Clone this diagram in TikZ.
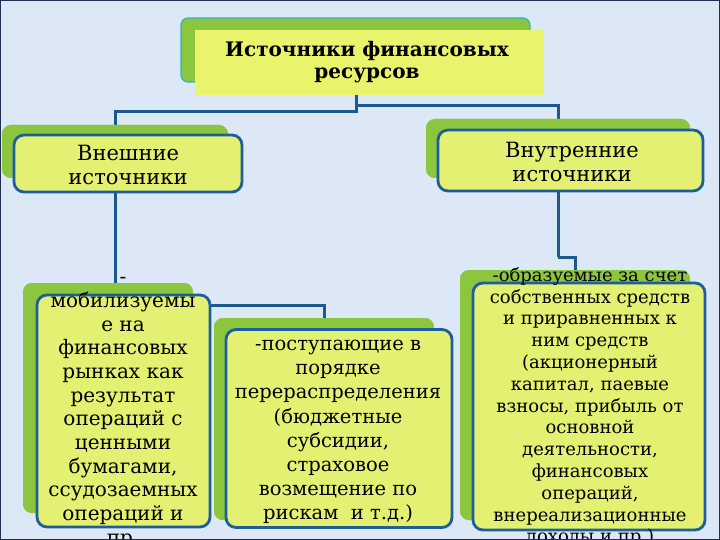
\documentclass[tikz,border=0pt]{standalone}
\usepackage{fontspec}
\setmainfont{DejaVu Serif}
\newfontfamily\boxfont{DejaVu Serif}
\definecolor{bg}{HTML}{DCE8F5}
\definecolor{gback}{HTML}{8CC63F}
\definecolor{yfront}{HTML}{E4F071}
\definecolor{ytitle}{HTML}{E9F36B}
\definecolor{bline}{HTML}{1F5E9C}
\definecolor{conn}{HTML}{1B5A8E}
\definecolor{frame}{HTML}{1E3050}
\definecolor{tealline}{HTML}{2FB3C6}
\tikzset{
  backbox/.style={fill=gback, rounded corners=9pt, inner sep=0pt},
  frontbox/.style={fill=yfront, draw=bline, line width=2.8pt, rounded corners=10pt, inner sep=0pt},
  connline/.style={draw=conn, line width=3pt},
  bigtext/.style={align=center, inner sep=0pt, font=\fontsize{21}{24}\selectfont},
  boxtext/.style={align=center, inner sep=0pt, font=\boxfont\fontsize{20}{23.7}\selectfont},
}
\begin{document}
\begin{tikzpicture}[x=1pt,y=-1pt]
\useasboundingbox (0,0) rectangle (720,540);
\clip (0,0) rectangle (720,540);
\fill[bg] (0,0) rectangle (720,540);

% coordinates for connector joints
\coordinate (jl) at (356,112);
\coordinate (jr) at (356,106);
\coordinate (j2) at (114,305);
\coordinate (j3) at (558,257);

% title
\node[backbox, draw=tealline, line width=1.2pt, rounded corners=7pt, minimum width=349pt, minimum height=64pt] (titleback) at (355.5,50) {};
\node[fill=ytitle, inner sep=0pt, minimum width=349pt, minimum height=65pt] (title) at (369.5,62.5) {};

% level 2 boxes
\node[backbox, minimum width=226pt, minimum height=53pt] (extback) at (115,151.5) {};
\node[backbox, minimum width=264pt, minimum height=59pt] (intback) at (558,148.5) {};

% level 3 back boxes
\node[backbox, minimum width=170pt, minimum height=230pt] (b1back) at (108,398) {};
\node[backbox, minimum width=220pt, minimum height=202pt] (b2back) at (324,419) {};
\node[backbox, minimum width=230pt, minimum height=250pt] (b3back) at (575,395) {};

% connectors
\draw[connline] (title.south -| jl) -- (jl) -| (extback.north);
\draw[connline] (jr) -| (intback.north);
\draw[connline] (j2) -| (b2back.north);
\draw[connline] (j3) -| (b3back.north);

% redraw backs above connectors
\node[backbox, minimum width=226pt, minimum height=53pt] at (115,151.5) {};
\node[backbox, minimum width=264pt, minimum height=59pt] at (558,148.5) {};
\node[backbox, minimum width=170pt, minimum height=230pt] at (108,398) {};
\node[backbox, minimum width=220pt, minimum height=202pt] at (324,419) {};
\node[backbox, minimum width=230pt, minimum height=250pt] at (575,395) {};

% front boxes
\node[frontbox, minimum width=228pt, minimum height=57pt] (ext) at (128,163.5) {};
\node[frontbox, minimum width=265pt, minimum height=61pt] (int) at (570.5,160.5) {};
\node[frontbox, minimum width=173pt, minimum height=232pt] (b1) at (123.5,411) {};
\node[frontbox, minimum width=226pt, minimum height=198pt] (b2) at (339,428.5) {};
\node[frontbox, minimum width=232pt, minimum height=247pt] (b3) at (589,406.5) {};

% connectors from level 2 down
\draw[connline] (ext.south -| extback.north) -- (b1back.north -| extback.north);
\draw[connline] (int.south -| j3) -- (j3);

% texts
\node[align=center, inner sep=0pt, font=\bfseries\fontsize{20}{22}\selectfont] (titletext) at (367,62.5) {Источники финансовых\\ресурсов};
\node[bigtext] (exttext) at (128,165) {Внешние\\источники};
\node[bigtext] (inttext) at (572,161.5) {Внутренние\\источники};
\node[boxtext] (t1) at (123,413) {-\\мобилизуемы\\е на\\финансовых\\рынках как\\результат\\операций с\\ценными\\бумагами,\\ссудозаемных\\операций и\\пр.};
\node[boxtext, font=\boxfont\fontsize{19.5}{24.2}\selectfont] (t2) at (338,432) {-поступающие в\\порядке\\перераспределения\\(бюджетные\\субсидии,\\страховое\\возмещение по\\рискам~~и т.д.)};
\node[align=center, inner sep=0pt, font=\boxfont\fontsize{18}{21.8}\selectfont] (t3) at (590,407) {-образуемые за счет\\собственных средств\\и приравненных к\\ним средств\\(акционерный\\капитал, паевые\\взносы, прибыль от\\основной\\деятельности,\\финансовых\\операций,\\внереализационные\\доходы и пр.)};

\draw[frame, line width=2.5pt] (0,0) rectangle (720,540);
\end{tikzpicture}
\end{document}
